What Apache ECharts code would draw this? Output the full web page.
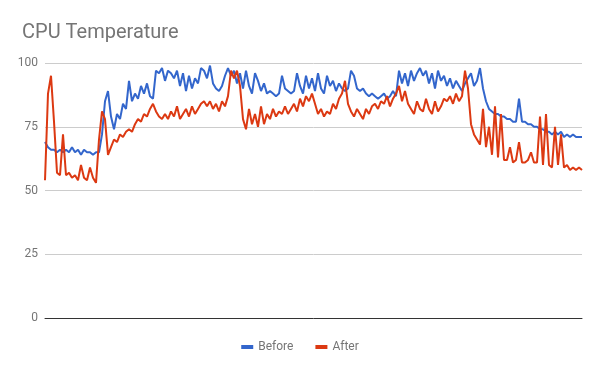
<!DOCTYPE html>
<html>
<head>
<meta charset="utf-8">
<script src="https://cdn.jsdelivr.net/npm/echarts@6/dist/echarts.min.js"></script>
<style>html,body{margin:0;padding:0;background:#fff}#c{width:600px;height:371px}</style>
</head>
<body>
<div id="c"></div>
<script>
var title = "CPU Temperature";
var seriesNames = ["Before", "After"];
var yTicks = [0, 25, 50, 75, 100];
var before = [69,67,66,66,65,66,65,66,65,67,65,66,64,66,65,65,64,65,65,72,
85,89,79,74,80,78,84,82,93,85,88,86,91,88,92,87,86,97,96,98,
93,97,96,94,97,91,96,89,95,90,94,92,98,97,94,99,92,90,89,91,
95,98,95,97,92,96,90,97,91,88,96,93,89,92,88,89,88,87,88,95,
90,89,88,89,96,91,88,95,90,94,89,96,90,88,95,91,93,89,92,90,
89,90,97,95,90,89,90,88,87,88,87,86,87,88,86,87,89,87,97,92,
96,91,97,93,96,98,95,97,92,96,90,97,93,95,91,94,90,93,91,89,
92,94,96,91,93,98,90,85,82,81,80,80,79,79,78,78,77,77,86,77,
77,76,76,75,75,74,74,73,73,72,73,72,73,71,72,71,72,71,71,71];
var after = [54,88,95,77,57,56,72,56,57,55,56,54,60,55,54,59,55,53,70,81,
78,64,67,70,69,72,71,73,74,73,76,78,77,80,79,82,84,81,79,78,
80,78,81,79,83,78,80,82,79,83,80,82,84,85,83,85,82,84,81,85,
83,87,97,94,97,91,78,74,82,76,80,75,83,76,80,78,82,79,81,80,
83,80,82,84,81,86,83,87,85,88,84,80,82,79,81,80,84,82,86,88,
93,84,81,79,82,80,78,82,80,83,84,82,85,84,87,83,86,88,91,85,
89,84,82,80,85,82,81,86,82,80,85,81,83,86,85,87,84,88,85,87,
97,90,76,72,70,68,82,67,75,64,83,63,80,62,62,67,61,62,69,61,
61,62,65,61,61,79,60,80,60,59,75,60,72,59,60,58,59,58,59,58];
var categories = before.map(function(_, i){ return String(i); });

var chart = echarts.init(document.getElementById('c'), null, {renderer: 'canvas'});
chart.setOption({
  animation: false,
  title: {
    text: title, left: 17, top: 18,
    textStyle: {fontFamily: 'Roboto', fontSize: 20, fontWeight: 'normal', color: '#757575'}
  },
  legend: {
    bottom: 13, left: 'center', icon: 'rect', itemWidth: 12, itemHeight: 4, itemGap: 22,
    data: seriesNames,
    textStyle: {fontFamily: 'Roboto', fontSize: 12, color: '#757575'}
  },
  grid: {left: 45, right: 18, top: 63, bottom: 53, containLabel: false},
  xAxis: {
    type: 'category', data: categories, boundaryGap: false,
    axisLabel: {show: false}, axisTick: {show: false},
    axisLine: {show: true, lineStyle: {color: '#333', width: 1}},
    splitLine: {show: false}
  },
  yAxis: {
    type: 'value', min: yTicks[0], max: yTicks[yTicks.length-1], interval: 25,
    axisLabel: {fontFamily: 'Roboto', fontSize: 12, color: '#757575', margin: 7},
    axisLine: {show: false}, axisTick: {show: false},
    splitLine: {lineStyle: {color: '#cccccc'}}
  },
  series: [
    {name: seriesNames[0], type: 'line', data: before, symbol: 'none', lineStyle: {width: 2, color: '#3366cc'}, itemStyle: {color: '#3366cc'}},
    {name: seriesNames[1], type: 'line', data: after, symbol: 'none', lineStyle: {width: 2, color: '#dc3912'}, itemStyle: {color: '#dc3912'}}
  ]
});
</script>
</body>
</html>
